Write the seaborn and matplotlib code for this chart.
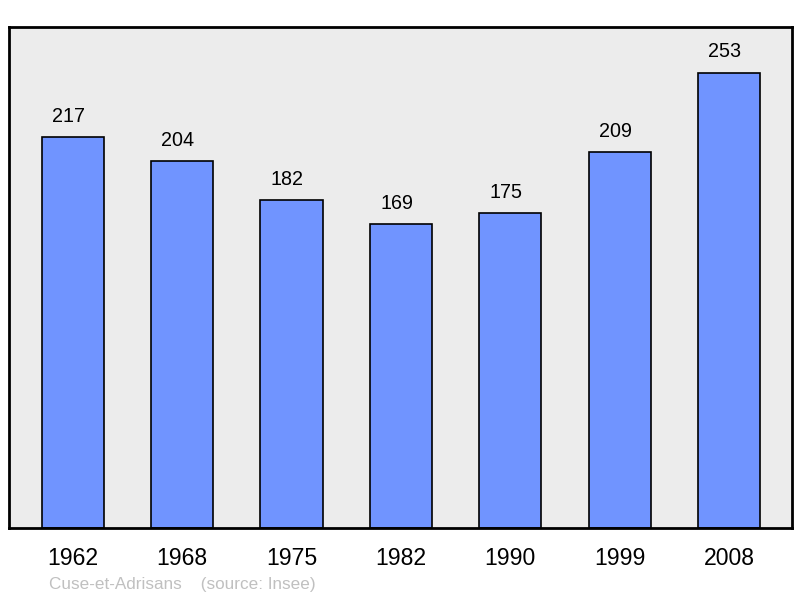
import matplotlib
matplotlib.use("Agg")
import matplotlib.pyplot as plt
import seaborn as sns
import pandas as pd

years = ["1962", "1968", "1975", "1982", "1990", "1999", "2008"]
population = [217, 204, 182, 169, 175, 209, 253]
commune = "Cuse-et-Adrisans"
source = "(source: Insee)"

sns.set_theme(style="white")
plt.rcParams["font.family"] = ["Liberation Sans", "DejaVu Sans"]

df = pd.DataFrame({"year": years, "pop": population})

fig = plt.figure(figsize=(8, 5.98), dpi=100)
ax = fig.add_axes([0.01125, 0.117, 0.97875, 0.8378])
ax.set_facecolor("#ececec")

sns.barplot(data=df, x="year", y="pop", color="#7094ff", saturation=1,
            width=0.57, edgecolor="black", linewidth=1.2, ax=ax)

# labels sit a little left of the bar centre, like the original
for i, v in enumerate(population):
    ax.annotate(str(v), (i, v), xytext=(-3.2, 8), textcoords="offset points",
                ha="center", va="bottom", fontsize=14.2, color="black")

ax.set_ylim(0, max(population) * 1.1)
ax.set_xlim(-0.585, len(years) - 1 + 0.576)
ax.set_yticks([])
ax.set_xlabel("")
ax.set_ylabel("")
ax.tick_params(axis="x", length=0, pad=13.5, labelsize=16.6, colors="black")
for s in ax.spines.values():
    s.set_visible(True)
    s.set_color("black")
    s.set_linewidth(2)

fig.text(49 / 800, 1 - 584 / 598, commune + "    " + source, fontsize=12.3,
         color="#c0c0c0", ha="left", va="center")

fig.savefig("out.png", dpi=100)
